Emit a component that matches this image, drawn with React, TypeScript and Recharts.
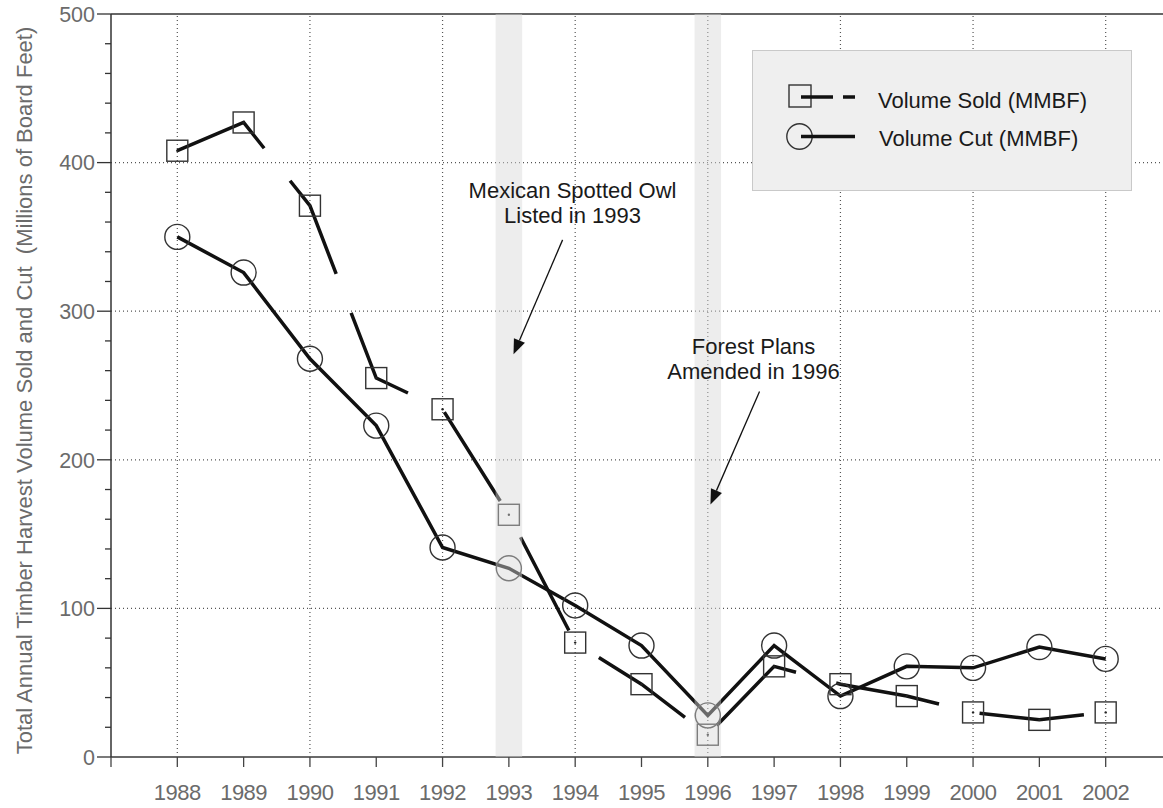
import React from "react";
import {
  ComposedChart,
  Line,
  XAxis,
  YAxis,
  ReferenceLine,
  ReferenceArea,
  ReferenceDot,
} from "recharts";

const years = [1988, 1989, 1990, 1991, 1992, 1993, 1994, 1995, 1996, 1997, 1998, 1999, 2000, 2001, 2002];
const volumeSold = [408, 427, 371, 255, 234, 163, 77, 49, 15, 61, 49, 41, 30, 25, 30];
const volumeCut = [350, 326, 268, 223, 141, 127, 102, 75, 28, 75, 41, 61, 60, 74, 66];

const xTicks = [1987, 1988, 1989, 1990, 1991, 1992, 1993, 1994, 1995, 1996, 1997, 1998, 1999, 2000, 2001, 2002];
const yTicks = [0, 20, 40, 60, 80, 100, 120, 140, 160, 180, 200, 220, 240, 260, 280, 300, 320, 340, 360, 380, 400, 420, 440, 460, 480, 500];
const gridYears = [1988, 1990, 1992, 1994, 1996, 1998, 2000, 2002];
const gridValues = [100, 200, 300, 400];
const eventYears = [1993, 1996];

const notes = [
  { lines: ["Mexican Spotted Owl", "Listed in 1993"], x: 1993.96, y: 376, from: { x: 1993.81, y: 348 }, to: { x: 1993.07, y: 271 } },
  { lines: ["Forest Plans", "Amended in 1996"], x: 1996.69, y: 271, from: { x: 1996.78, y: 246 }, to: { x: 1996.04, y: 170 } },
];

const data = years.map((year, i) => ({ year, sold: volumeSold[i], cut: volumeCut[i] }));

const FONT = 'Arial, "Liberation Sans", Helvetica, sans-serif';

function SquareDot(props: any) {
  const { cx, cy } = props;
  if (cx == null || cy == null) return null;
  return (
    <g>
      <rect x={cx - 10.5} y={cy - 10.5} width={21} height={21} fill="none" stroke="#333" strokeWidth={1.4} />
      <circle cx={cx} cy={cy} r={1.2} fill="#222" />
    </g>
  );
}

function CircleDot(props: any) {
  const { cx, cy } = props;
  if (cx == null || cy == null) return null;
  return <circle cx={cx} cy={cy} r={12.5} fill="none" stroke="#333" strokeWidth={1.4} />;
}

function YTick(props: any) {
  const { x, y, payload } = props;
  const major = payload.value % 100 === 0;
  return (
    <g>
      <line x1={x - (major ? 14 : 6)} x2={x} y1={y} y2={y} stroke="#333" strokeWidth={1.3} />
      {major && (
        <text x={x - 16} y={y} dy="0.36em" textAnchor="end" fontSize={21.5} fill="#6b6b6b" fontFamily={FONT}>
          {payload.value}
        </text>
      )}
    </g>
  );
}

function Arrow(props: any) {
  const { x1, y1, x2, y2 } = props;
  const a = Math.atan2(y2 - y1, x2 - x1);
  const len = 15;
  const half = 6;
  const bx = x2 - len * Math.cos(a);
  const by = y2 - len * Math.sin(a);
  const px = -Math.sin(a) * half;
  const py = Math.cos(a) * half;
  return (
    <g>
      <line x1={x1} y1={y1} x2={bx} y2={by} stroke="#111" strokeWidth={1.3} />
      <polygon points={`${x2},${y2} ${bx + px},${by + py} ${bx - px},${by - py}`} fill="#111" />
    </g>
  );
}

function NoteText(lines: string[]) {
  return (props: any) => {
    const { cx, cy } = props;
    return (
      <text x={cx} y={cy} textAnchor="middle" fontSize={22} fill="#1a1a1a" fontFamily={FONT}>
        {lines.map((l, i) => (
          <tspan key={i} x={cx} dy={i === 0 ? 0 : 25}>
            {l}
          </tspan>
        ))}
      </text>
    );
  };
}

function LegendBox() {
  return (
    <div
      style={{
        position: "absolute",
        left: 752,
        top: 50,
        width: 380,
        height: 141,
        background: "#efefef",
        border: "1.5px solid #c9c9c9",
        boxSizing: "border-box",
      }}
    >
      <svg width={380} height={141} style={{ position: "absolute", left: -1.5, top: -1.5 }}>
        <rect x={37} y={35} width={22} height={22} fill="none" stroke="#333" strokeWidth={1.4} />
        <line x1={49} x2={81} y1={47} y2={47} stroke="#111" strokeWidth={3.5} />
        <line x1={91} x2={103} y1={47} y2={47} stroke="#111" strokeWidth={3.5} />
        <text x={126} y={58} fontSize={22} fill="#1a1a1a" fontFamily={FONT}>
          Volume Sold (MMBF)
        </text>
        <circle cx={47.5} cy={86.5} r={12.7} fill="none" stroke="#333" strokeWidth={1.4} />
        <line x1={49} x2={103} y1={86.5} y2={86.5} stroke="#111" strokeWidth={3.5} />
        <text x={127} y={96} fontSize={22} fill="#1a1a1a" fontFamily={FONT}>
          Volume Cut (MMBF)
        </text>
      </svg>
    </div>
  );
}

export default function App() {
  return (
    <div
      style={{
        position: "absolute",
        left: 0,
        top: 0,
        width: 1163,
        height: 808,
        overflow: "hidden",
        background: "#fff",
        fontFamily: FONT,
      }}
    >
      <ComposedChart width={1172} height={808} data={data} margin={{ top: 14, right: 0, bottom: 0, left: 0 }}>
        <XAxis
          dataKey="year"
          type="number"
          domain={[1987, 2003]}
          ticks={xTicks}
          interval={0}
          allowDataOverflow
          height={51}
          tickSize={10}
          tickMargin={17}
          axisLine={{ stroke: "#6a6a6a", strokeWidth: 2 }}
          tickLine={{ stroke: "#444", strokeWidth: 1.3 }}
          tick={{ fontSize: 22, fill: "#6b6b6b", fontFamily: FONT, letterSpacing: -0.5 }}
          tickFormatter={(v: number) => (v === 1987 ? "" : String(v))}
        />
        <YAxis
          type="number"
          domain={[0, 500]}
          ticks={yTicks}
          interval={0}
          width={111}
          tickSize={0}
          tickMargin={0}
          tickLine={false}
          axisLine={{ stroke: "#333", strokeWidth: 1.5 }}
          tick={<YTick />}
          label={{
            content: (p: any) => {
              const vb = p.viewBox || { y: 14, height: 743 };
              const cy = vb.y + vb.height / 2 + 5;
              return (
                <text
                  x={32}
                  y={cy}
                  transform={`rotate(-90 32 ${cy})`}
                  textAnchor="middle"
                  fontSize={22}
                  fill="#6b6b6b"
                  fontFamily={FONT}
                  style={{ whiteSpace: "pre" }}
                >
                  {"Total Annual Timber Harvest Volume Sold and Cut  (Millions of Board Feet)"}
                </text>
              );
            },
          }}
        />
        {gridYears.map((y) => (
          <ReferenceLine key={`gx${y}`} x={y} stroke="#555" strokeWidth={1.2} strokeDasharray="1 3" />
        ))}
        {gridValues.map((v) => (
          <ReferenceLine key={`gy${v}`} y={v} stroke="#555" strokeWidth={1.2} strokeDasharray="1 3" />
        ))}
        <ReferenceLine y={500} stroke="#333" strokeWidth={1.5} />
        <Line
          dataKey="cut"
          type="linear"
          stroke="#111"
          strokeWidth={3.5}
          dot={<CircleDot />}
          activeDot={false}
          isAnimationActive={false}
        />
        <Line
          dataKey="sold"
          type="linear"
          stroke="#111"
          strokeWidth={3.5}
          strokeDasharray="105 41.6"
          dot={<SquareDot />}
          activeDot={false}
          isAnimationActive={false}
        />
        {eventYears.map((y) => (
          <ReferenceArea
            key={`band${y}`}
            x1={y - 0.2}
            x2={y + 0.2}
            y1={0}
            y2={500}
            fill="#d6d6d6"
            fillOpacity={0.45}
            stroke="none"
            zIndex={700}
          />
        ))}
        {notes.map((n, i) => (
          <ReferenceLine
            key={`arrow${i}`}
            segment={[n.from, n.to]}
            shape={(p: any) => <Arrow {...p} />}
            zIndex={800}
          />
        ))}
        {notes.map((n, i) => (
          <ReferenceDot key={`note${i}`} x={n.x} y={n.y} r={1} shape={NoteText(n.lines)} zIndex={800} />
        ))}
      </ComposedChart>
      <LegendBox />
    </div>
  );
}
